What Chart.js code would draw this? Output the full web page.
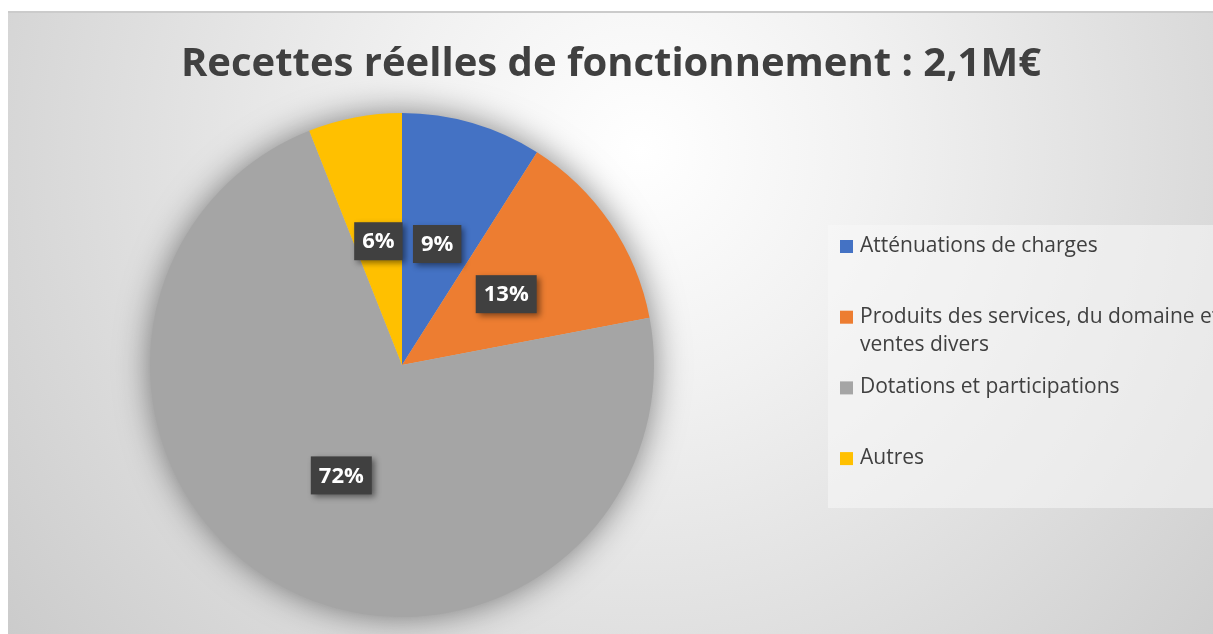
<!DOCTYPE html>
<html>
<head>
<meta charset="utf-8">
<script src="https://cdn.jsdelivr.net/npm/chart.js@4"></script>
<style>
  html, body { margin: 0; padding: 0; background: #ffffff; }
  #wrap { width: 1213px; height: 634px; }
</style>
</head>
<body>
<div id="wrap"><canvas id="recettes-viz" width="1213" height="634"></canvas></div>
<script>
// Recettes réelles de fonctionnement - parts en %
var chart_title = 'Recettes réelles de fonctionnement : 2,1M€';
var categories = [
	'Atténuations de charges',
	['Produits des services, du domaine et', 'ventes divers'],
	'Dotations et participations',
	'Autres'
];
var parts = [9, 13, 72, 6];
var couleurs = ['#4472C4', '#ED7D31', '#A5A5A5', '#FFC000'];

// background frame + radial grey gradient
var fond_plugin = {
	id: 'fond',
	beforeDraw: function(chart) {
		var ctx = chart.ctx;
		ctx.save();
		ctx.fillStyle = '#ffffff';
		ctx.fillRect(0, 0, chart.width, chart.height);
		var g = ctx.createRadialGradient(640, 150, 0, 640, 150, 800);
		g.addColorStop(0, '#ffffff');
		g.addColorStop(0.3, '#f1f1f1');
		g.addColorStop(1, '#cbcbcb');
		ctx.fillStyle = g;
		ctx.fillRect(8, 12, chart.width - 8, chart.height - 12);
		ctx.fillStyle = '#cbcbcb';
		ctx.fillRect(8, 11, chart.width - 8, 2);
		ctx.restore();
	}
};

// soft glow under the pie (halo only, disc is hidden by the slices)
var ombre_plugin = {
	id: 'ombre',
	beforeDatasetsDraw: function(chart) {
		var arc = chart.getDatasetMeta(0).data[0];
		if (!arc) return;
		var ctx = chart.ctx;
		ctx.save();
		ctx.shadowColor = 'rgba(0,0,0,0.5)';
		ctx.shadowBlur = 34;
		ctx.fillStyle = '#bdbdbd';
		ctx.beginPath();
		ctx.arc(arc.x, arc.y, arc.outerRadius - 1, 0, Math.PI * 2);
		ctx.fill();
		ctx.restore();
	}
};

// title, legend box and data labels
var textes_plugin = {
	id: 'textes',
	afterDatasetsDraw: function(chart) {
		var ctx = chart.ctx;
		var meta = chart.getDatasetMeta(0);
		var total = parts.reduce(function(a, b) { return a + b; }, 0);
		ctx.save();

		// data labels in dark boxes
		ctx.font = 'bold 22px "Open Sans"';
		ctx.textAlign = 'center';
		ctx.textBaseline = 'middle';
		meta.data.forEach(function(arc, i) {
			var p = arc.tooltipPosition();
			var txt = Math.round(parts[i] / total * 100) + '%';
			var w = ctx.measureText(txt).width + 16;
			var h = 38;
			ctx.save();
			ctx.shadowColor = 'rgba(0,0,0,0.45)';
			ctx.shadowBlur = 6;
			ctx.shadowOffsetX = 3;
			ctx.shadowOffsetY = 3;
			ctx.fillStyle = '#404040';
			ctx.fillRect(p.x - w / 2, p.y - h / 2, w, h);
			ctx.restore();
			ctx.fillStyle = '#ffffff';
			ctx.fillText(txt, p.x, p.y + 1);
		});

		// title
		ctx.font = 'bold 40px "Open Sans"';
		ctx.fillStyle = '#404040';
		ctx.fillText(chart_title, 611, 65);

		// legend
		ctx.fillStyle = 'rgba(248,248,248,0.55)';
		ctx.fillRect(828, 225, chart.width - 828, 283);
		ctx.font = '21px "Open Sans"';
		ctx.textAlign = 'left';
		categories.forEach(function(lab, i) {
			var y = 246 + i * 70.7;
			ctx.fillStyle = couleurs[i];
			ctx.fillRect(840, y - 6, 13, 13);
			ctx.fillStyle = '#404040';
			var lignes = Array.isArray(lab) ? lab : [lab];
			lignes.forEach(function(l, j) {
				ctx.fillText(l, 860, y + j * 28);
			});
		});
		ctx.restore();
	}
};

var ctx = document.getElementById('recettes-viz');
var cfg = {
	type: 'pie',
	data: {
		labels: categories,
		datasets: [{
			data: parts,
			backgroundColor: couleurs,
			borderWidth: 0
		}]
	},
	options: {
		responsive: false,
		animation: false,
		layout: { padding: { left: 150, right: 559, top: 113, bottom: 17 } },
		plugins: {
			legend: { display: false },
			title: { display: false },
			tooltip: { enabled: false }
		}
	},
	plugins: [fond_plugin, ombre_plugin, textes_plugin]
};
new Chart(ctx, cfg);
</script>
</body>
</html>
